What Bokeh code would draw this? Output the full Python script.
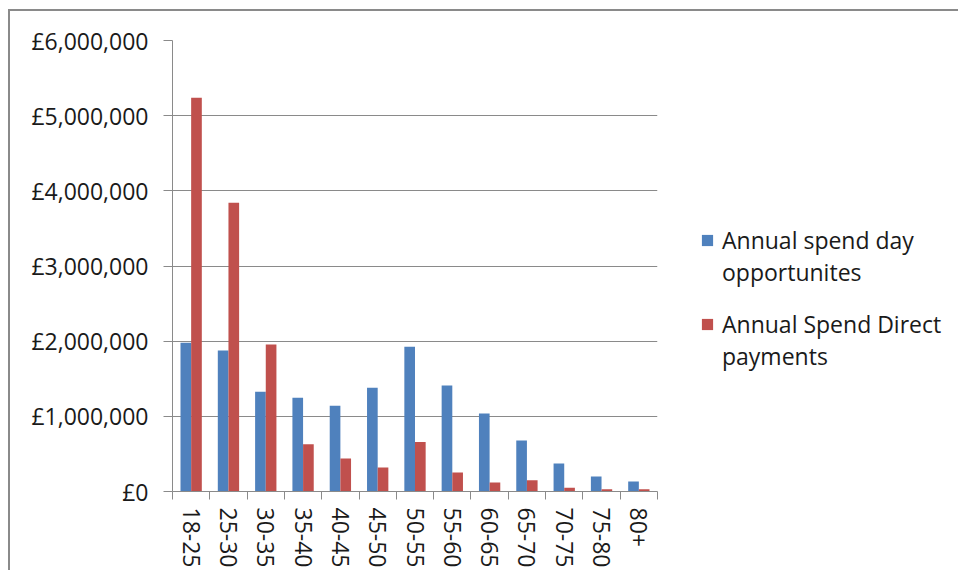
from bokeh.plotting import figure
from bokeh.models import (ColumnDataSource, Range1d, FixedTicker, Legend, LegendItem)
from bokeh.transform import dodge
from bokeh.embed import file_html
from bokeh.resources import INLINE

categories = ["18-25", "25-30", "30-35", "35-40", "40-45", "45-50", "50-55",
              "55-60", "60-65", "65-70", "70-75", "75-80", "80+"]
day_opportunities = [1980000, 1876000, 1326000, 1246000, 1140000, 1380000, 1925000,
                     1410000, 1038000, 678000, 372000, 200000, 133000]
direct_payments = [5240000, 3840000, 1955000, 630000, 440000, 320000, 660000,
                   253000, 120000, 150000, 50000, 30000, 30000]
series_lines_1 = ["Annual spend day", "opportunites"]
series_lines_2 = ["Annual Spend Direct", "payments"]
y_tick_values = [0, 1000000, 2000000, 3000000, 4000000, 5000000, 6000000]
y_tick_labels = ["£0", "£1,000,000", "£2,000,000", "£3,000,000", "£4,000,000",
                 "£5,000,000", "£6,000,000"]

BLUE = "#4F81BD"
RED = "#C0504D"
GRID = "#8a8a8a"
TEXT = "#1a1a1a"
FONT = "Open Sans"
FS = "23px"

n = len(categories)
centers = [i + 0.5 for i in range(n)]
boundaries = [float(i) for i in range(n + 1)]
bar_w = 1 / 3.5

source = ColumnDataSource(dict(x=centers, cat=categories,
                               day=day_opportunities, direct=direct_payments))

p = figure(frame_width=485, frame_height=451,
           x_range=Range1d(0, n), y_range=Range1d(0, 6000000),
           output_backend="svg", toolbar_location=None,
           min_border_left=162, min_border_top=29, min_border_right=293,
           min_border_bottom=78)
p.styles = {"border-top": "2px solid #8a8a8a", "border-left": "2px solid #8a8a8a",
            "margin-top": "9px", "margin-left": "8px"}
p.outline_line_color = None
p.background_fill_color = "white"
p.border_fill_color = "white"

r1 = p.vbar(x=dodge("x", -bar_w / 2, range=p.x_range), top="day", width=bar_w,
            source=source, fill_color=BLUE, line_color=None)
r2 = p.vbar(x=dodge("x", bar_w / 2, range=p.x_range), top="direct", width=bar_w,
            source=source, fill_color=RED, line_color=None)
# invisible renderer used only for legend continuation lines
r_blank = p.vbar(x=[], top=[], width=bar_w, fill_alpha=0, line_alpha=0)

# x axis
xa = p.xaxis[0]
xa.ticker = FixedTicker(ticks=centers, minor_ticks=boundaries)
xa.major_label_overrides = {c: lab for c, lab in zip(centers, categories)}
xa.major_label_orientation = "vertical"
xa.major_tick_out = 0
xa.major_tick_in = 0
xa.minor_tick_out = 8
xa.minor_tick_in = 0
xa.minor_tick_line_color = GRID
xa.axis_line_color = GRID
xa.major_label_standoff = 8
xa.major_label_text_font = FONT
xa.major_label_text_font_size = FS
xa.major_label_text_color = TEXT

# y axis
ya = p.yaxis[0]
ya.ticker = FixedTicker(ticks=y_tick_values, minor_ticks=[])
ya.major_label_overrides = {v: lab for v, lab in zip(y_tick_values, y_tick_labels)}
ya.major_tick_out = 9
ya.major_tick_in = 0
ya.major_tick_line_color = GRID
ya.axis_line_color = GRID
ya.major_label_standoff = 15
ya.major_label_text_font = FONT
ya.major_label_text_font_size = FS
ya.major_label_text_color = TEXT

p.xgrid.grid_line_color = None
p.ygrid.grid_line_color = GRID
p.ygrid.ticker = FixedTicker(ticks=y_tick_values)

legend = Legend(items=[LegendItem(label=series_lines_1[0], renderers=[r1]),
                       LegendItem(label=series_lines_1[1], renderers=[r_blank]),
                       LegendItem(label=" ", renderers=[r_blank]),
                       LegendItem(label=series_lines_2[0], renderers=[r2]),
                       LegendItem(label=series_lines_2[1], renderers=[r_blank])],
                location=(43, 119), orientation="vertical")
legend.border_line_color = None
legend.background_fill_alpha = 0
legend.label_text_font = FONT
legend.label_text_font_size = FS
legend.label_text_color = TEXT
legend.glyph_width = 14
legend.glyph_height = 14
legend.label_standoff = 8
legend.label_height = 20
legend.spacing = 0
legend.margin = 0
legend.padding = 0
p.add_layout(legend, "right")

open("out.html", "w").write(file_html(p, INLINE))
